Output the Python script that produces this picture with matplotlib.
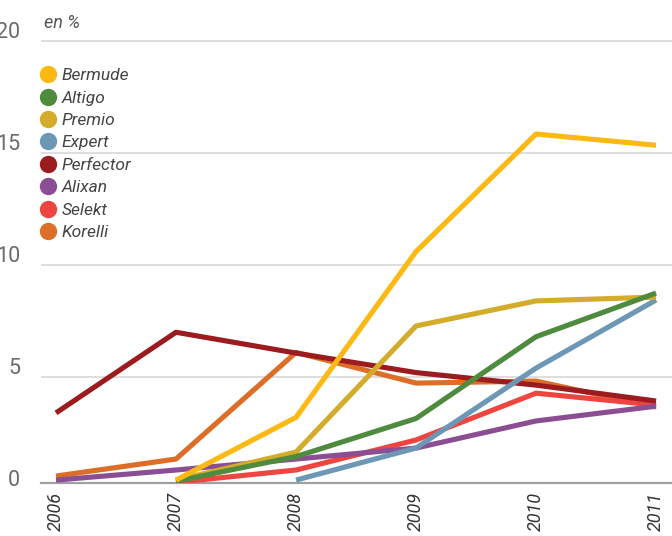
import matplotlib
matplotlib.use("Agg")
import matplotlib.pyplot as plt
from matplotlib.lines import Line2D
from matplotlib.transforms import offset_copy, blended_transform_factory

plt.rcParams['font.family'] = ['Roboto', 'DejaVu Sans']

# data (en %)
years = [2006, 2007, 2008, 2009, 2010, 2011]
year_labels = ['2006', '2007', '2008', '2009', '2010', '2011']
names = ['Bermude', 'Altigo', 'Premio', 'Expert', 'Perfector', 'Alixan', 'Selekt', 'Korelli']
colors = ['#FDB913', '#4F8B3E', '#D4AC2B', '#6C97B5', '#9B1B1F', '#8B4E93', '#EF4540', '#DC6E27']

bermude   = [None, 0.4, 3.2, 10.6, 15.85, 15.35]
altigo    = [None, 0.35, 1.45, 3.15, 6.8, 8.75]
premio    = [None, 0.4, 1.65, 7.28, 8.4, 8.57]
expert    = [None, None, 0.4, 1.83, 5.4, 8.44]
perfector = [3.4, 7.0, 6.07, 5.2, 4.64, 3.93]
alixan    = [0.4, 0.85, 1.34, 1.83, 3.04, 3.7]
selekt    = [None, 0.3, 0.85, 2.19, 4.28, 3.75]
korelli   = [0.58, 1.34, 6.1, 4.73, 4.82, 3.66]
series = [bermude, altigo, premio, expert, perfector, alixan, selekt, korelli]

y_ticks = [0, 5, 10, 15, 20]

fig = plt.figure(figsize=(6.72, 5.36), dpi=100)
ax = fig.add_axes([41/672, 53/536, 631/672, (483-36.6)/536])
ax.set_xlim(2005.875, 2011.133)
ax.set_ylim(0.27, 20.2)

for v in y_ticks[1:]:
    ax.axhline(v, color='#d4d4d4', lw=1.1, zorder=1)
ax.axhline(0.27, color='#a0a0a0', lw=1.6, zorder=1, clip_on=False)

# last in legend is drawn first
for name, col, vals in reversed(list(zip(names, colors, series))):
    xs = [x for x, v in zip(years, vals) if v is not None]
    ys = [v for v in vals if v is not None]
    ax.plot(xs, ys, color=col, lw=3.7, solid_capstyle='butt', zorder=3)

for sp in ax.spines.values():
    sp.set_visible(False)
ax.set_yticks([])
ax.set_xticks(years)
ax.set_xticklabels(year_labels, rotation=90, fontstyle='italic', fontsize=13, color='#333333')
ax.tick_params(axis='x', length=0, pad=6.5)

trans = offset_copy(ax.transData, fig=fig, x=0, y=3, units='dots')
ylab_tr = blended_transform_factory(fig.transFigure, trans)
for v in y_ticks:
    ax.text(20/672, v, str(v), transform=ylab_tr, ha='right', va='baseline',
            fontsize=15.5, color='#6a6a6a', clip_on=False)

fig.text(44/672, 1 - 23/536, 'en %', fontstyle='italic', fontsize=13,
         color='#555555', ha='left', va='center')

handles = [Line2D([], [], ls='none', marker='o', markersize=12.5, markerfacecolor=c,
                  markeredgecolor='none') for c in colors]
fig.legend(handles, names, loc='upper left', bbox_to_anchor=(41/672, 1 - 68/536),
           frameon=False, borderpad=0, borderaxespad=0, handlelength=0.8,
           handletextpad=0.4, labelspacing=0.42,
           prop={'size': 12.5, 'style': 'italic'}, labelcolor='#444444')

fig.savefig('out.png', dpi=100)
